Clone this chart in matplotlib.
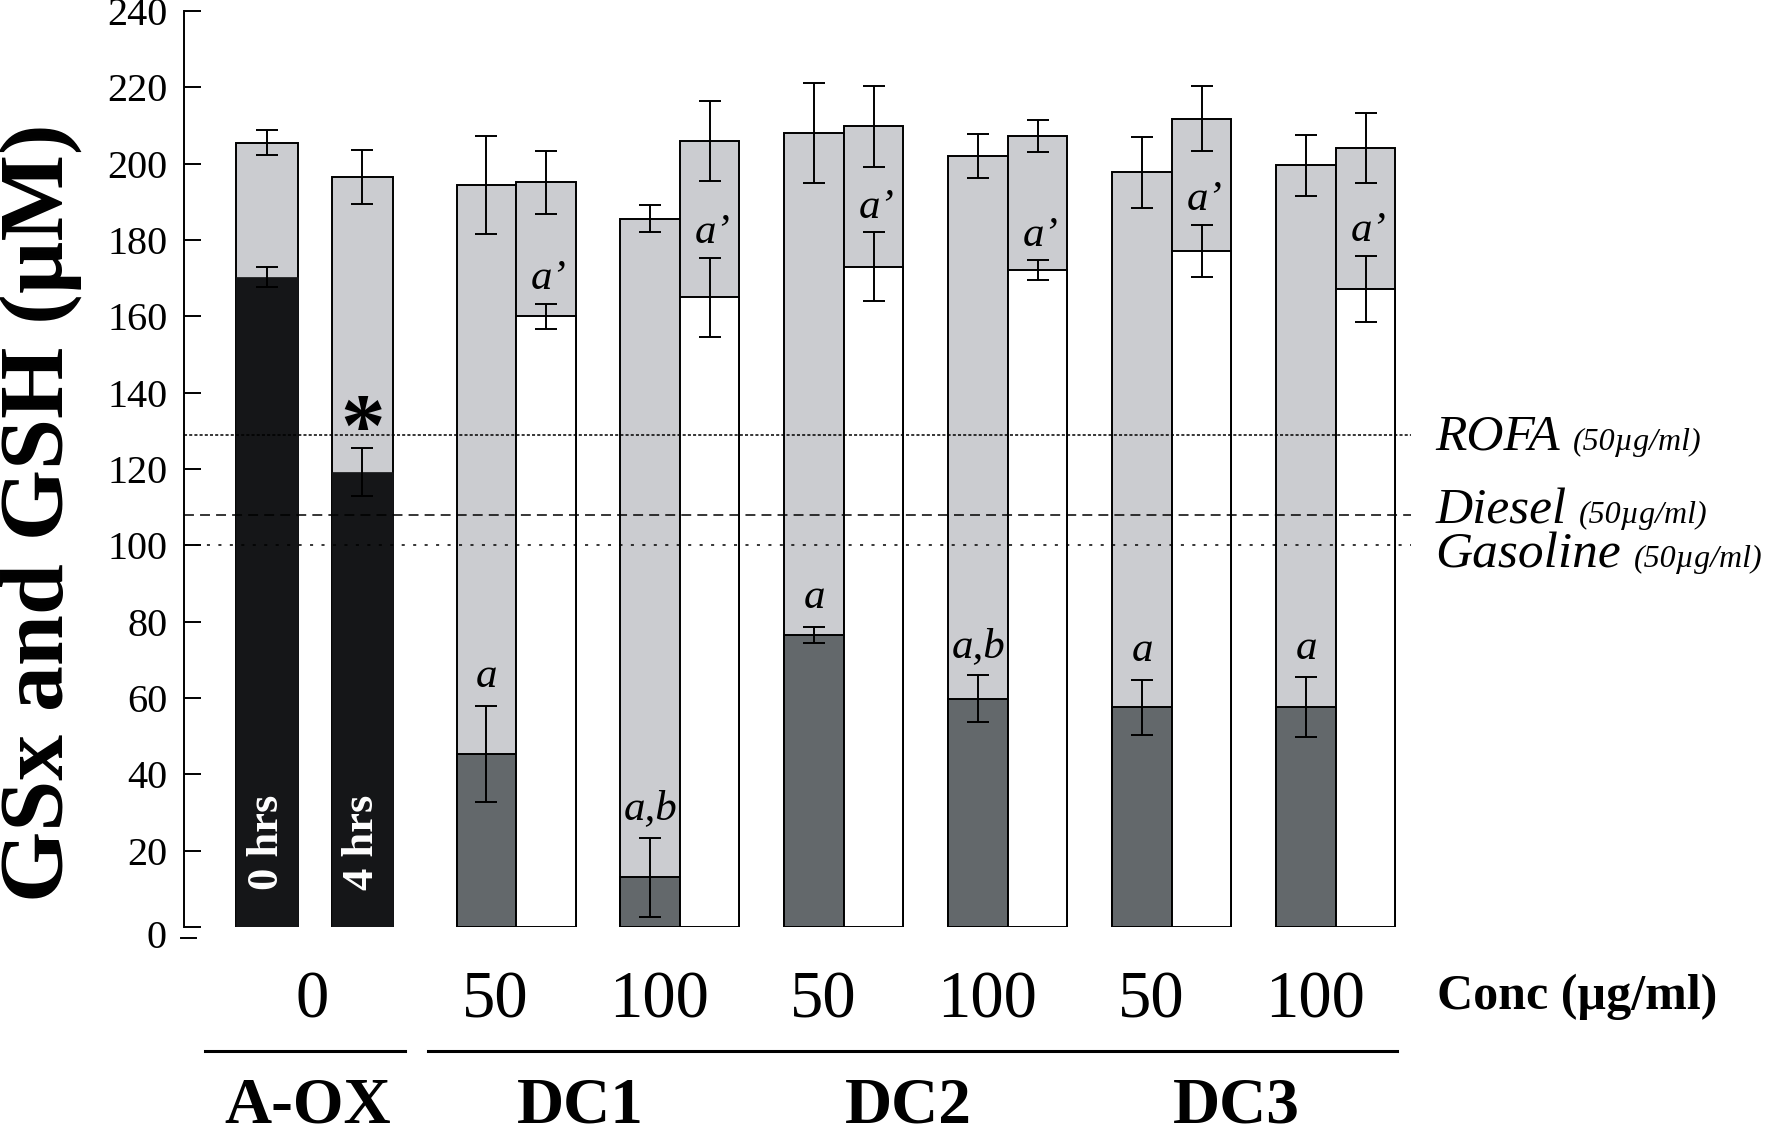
import numpy as np
import matplotlib
matplotlib.use("Agg")
import matplotlib.pyplot as plt

plt.rcParams['font.family'] = ['Liberation Serif', 'DejaVu Serif']

# ---- data ----
ctrl_labels = ['0 hrs', '4 hrs']
ctrl_total = [205.5, 196.5]
ctrl_total_err = [3.2, 7.1]
ctrl_gsh = [170.3, 119.2]
ctrl_gsh_err = [2.7, 6.2]

conc_labels = ['50', '100', '50', '100', '50', '100']
groups = ['DC1', 'DC2', 'DC3']

# left bar of each pair (dark = GSH part)
left_total = [194.5, 185.6, 208.0, 202.1, 197.7, 199.6]
left_total_err = [12.8, 3.6, 13.1, 5.8, 9.3, 8.0]
left_gsh = [45.4, 13.0, 76.5, 59.8, 57.6, 57.6]
left_gsh_err = [12.6, 10.4, 2.2, 6.1, 7.2, 7.9]
left_marks = ['a', 'a,b', 'a', 'a,b', 'a', 'a']

# right bar of each pair (white = GSH part)
right_total = [195.1, 205.9, 209.8, 207.2, 211.8, 204.2]
right_total_err = [8.3, 10.5, 10.6, 4.2, 8.6, 9.2]
right_gsh = [160.0, 165.0, 173.0, 172.1, 177.1, 167.2]
right_gsh_err = [3.3, 10.4, 9.0, 2.6, 6.9, 8.7]
right_marks = ['a\u2019'] * 6

ref_names = ['ROFA', 'Diesel', 'Gasoline']
ref_values = [129, 108, 100]

LIGHT = '#cbccd0'
DARK = '#63686b'
BLACK = '#151618'

fig = plt.figure(figsize=(17.67, 11.33), dpi=100)
ax = fig.add_axes([0.10413, 0.18182, 0.7105, 0.80847])

ctrl_x = np.array([1.395, 3.0])
pair_mid = 5.58 + 2.756 * np.arange(6)
lx = pair_mid - 0.5
rx = pair_mid + 0.5

ekw = dict(fmt='none', ecolor='black', elinewidth=1.4, capsize=8, capthick=1.4, zorder=5)

# control bars (A-OX)
ax.bar(ctrl_x, ctrl_total, width=1.04, color=LIGHT, edgecolor='black', linewidth=1.4, zorder=2)
ax.bar(ctrl_x, ctrl_gsh, width=1.04, color=BLACK, edgecolor=BLACK, linewidth=0.5, zorder=3)
ax.errorbar(ctrl_x, ctrl_total, yerr=ctrl_total_err, **ekw)
ax.errorbar(ctrl_x, ctrl_gsh, yerr=ctrl_gsh_err, **ekw)
for x, lab in zip(ctrl_x, ctrl_labels):
    ax.text(x, 22.3, lab, rotation=90, color='white', fontsize=32, fontweight='bold',
            ha='center', va='center', zorder=6)
ax.text(ctrl_x[1], 124, '*', fontsize=64, fontweight='bold', ha='center', va='baseline', zorder=6)

# DC pairs
ax.bar(lx, left_total, width=1, color=LIGHT, edgecolor='black', linewidth=1.4, zorder=2)
ax.bar(lx, left_gsh, width=1, color=DARK, edgecolor='black', linewidth=1.4, zorder=3)
ax.bar(rx, right_total, width=1, color=LIGHT, edgecolor='black', linewidth=1.4, zorder=2)
ax.bar(rx, right_gsh, width=1, color='white', edgecolor='black', linewidth=1.4, zorder=3)
ax.errorbar(lx, left_total, yerr=left_total_err, **ekw)
ax.errorbar(lx, left_gsh, yerr=left_gsh_err, **ekw)
ax.errorbar(rx, right_total, yerr=right_total_err, **ekw)
ax.errorbar(rx, right_gsh, yerr=right_gsh_err, **ekw)

for x, g, e, m in zip(lx, left_gsh, left_gsh_err, left_marks):
    ax.text(x, g + e + 7.5, m, fontsize=31, style='italic',
            ha='center', va='center', zorder=6)
for x, g, e, m in zip(rx, right_gsh, right_gsh_err, right_marks):
    ax.text(x + 0.05, g + e + 6.5, m, fontsize=31, style='italic',
            ha='center', va='center', zorder=6)

# reference lines
styles = [(0, (2, 1.4)), (0, (6.5, 4)), (0, (2, 5.5))]
for v, ls in zip(ref_values, styles):
    ax.plot([0, 20.62], [v, v], color='black', lw=1.1, linestyle=ls, zorder=4, clip_on=False)
ref_y = [125, 105.8, 94.3]
for name, y in zip(ref_names, ref_y):
    t = ax.text(21.03, y, name, fontsize=37, style='italic', ha='left', va='baseline')
    ax.annotate('(50\u00b5g/ml)', xy=(1, 0), xycoords=t, xytext=(9, 3),
                textcoords='offset points', fontsize=23, style='italic',
                ha='left', va='bottom')

# axes styling
ax.set_xlim(0, 21.1)
ax.set_ylim(0, 240)
for s in ['top', 'right', 'bottom']:
    ax.spines[s].set_visible(False)
ax.spines['left'].set_linewidth(1.4)
ax.set_xticks([])
ax.set_yticks(np.arange(0, 241, 20))
ax.set_yticklabels([''] + [str(v) for v in range(20, 241, 20)])
ax.tick_params(axis='y', direction='in', length=12, width=1.4, pad=12, labelsize=29)
ax.text(-0.29, -2.9, '0', fontsize=29, ha='right', va='center', clip_on=False)
ax.plot([-0.05, 0.2], [-2.9, -2.9], color='black', lw=1.4, clip_on=False)

fig.text(41 / 1767, 1 - 513 / 1133, 'GSx and GSH (\u00b5M)', rotation=90, fontsize=66,
         fontweight='bold', ha='center', va='center')

# x labels
ax.text(ctrl_x.mean() - 0.05, -19.5, '0', fontsize=48, ha='center', va='center', clip_on=False)
for x, lab in zip(pair_mid, conc_labels):
    ax.text(x - 0.35, -19.5, lab, fontsize=48, ha='center', va='center', clip_on=False)
ax.text(21.06, -18.3, 'Conc (\u00b5g/ml)', fontsize=36, fontweight='bold', ha='left',
        va='center', clip_on=False)

ax.plot([0.35, 3.71], [-32.5, -32.5], color='black', lw=2.2, clip_on=False)
ax.plot([4.1, 20.39], [-32.5, -32.5], color='black', lw=2.2, clip_on=False)
ax.text(ctrl_x.mean() - 0.12, -47, 'A-OX', fontsize=47, fontweight='bold', ha='center',
        va='center', clip_on=False)
group_mid = (pair_mid[0::2] + pair_mid[1::2]) / 2
for x, g in zip(group_mid, groups):
    ax.text(x - 0.3, -47, g, fontsize=47, fontweight='bold', ha='center', va='center',
            clip_on=False)

fig.savefig('out.png', dpi=100)
